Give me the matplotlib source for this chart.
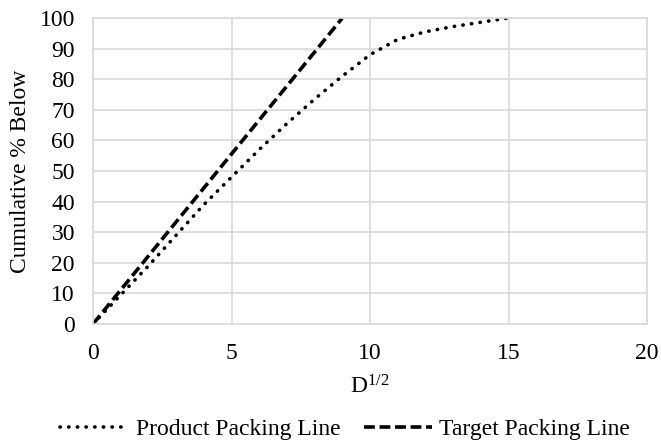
import matplotlib.pyplot as plt

plt.rcParams['font.family'] = ['Liberation Serif', 'DejaVu Serif']
plt.rcParams['mathtext.fontset'] = 'custom'
plt.rcParams['mathtext.rm'] = 'Liberation Serif'
plt.rcParams['mathtext.default'] = 'regular'

# Product packing line
product_x = [0, 1, 2, 3, 4, 5, 6, 7, 8, 9, 10, 11, 12, 13, 14, 15]
product_y = [0, 9.5, 19, 29, 39, 48, 57, 65.5, 73.5, 81, 88, 93, 95.5, 97.2, 98.6, 100]

# Target packing line
target_x = [0, 9]
target_y = [0, 100]

x_ticks = [0, 5, 10, 15, 20]
y_ticks = [0, 10, 20, 30, 40, 50, 60, 70, 80, 90, 100]

fig = plt.figure(figsize=(6.61, 4.44), dpi=100)
ax = fig.add_axes([0.1407, 0.2703, 0.8383, 0.6892])

ax.plot(product_x, product_y, color='black', linewidth=2.6, linestyle=(0, (0.1, 2.3)),
        dash_capstyle='round', label='Product Packing Line')
ax.plot(target_x, target_y, color='black', linewidth=2.6, linestyle=(0, (3.0, 1.3)),
        label='Target Packing Line')

ax.set_xlim(0, 20)
ax.set_ylim(0, 100)
ax.set_xticks(x_ticks)
ax.set_yticks(y_ticks)
ax.grid(True, color='#d9d9d9', linewidth=1.2)
ax.set_axisbelow(True)
for s in ax.spines.values():
    s.set_color('#d9d9d9')
    s.set_linewidth(1.2)
ax.tick_params(length=0, labelsize=17)
ax.tick_params(axis='x', pad=14)
ax.tick_params(axis='y', pad=13)

ax.set_xlabel('D$^{1/2}$', fontsize=17, labelpad=8)
ax.set_ylabel('Cumulative % Below', fontsize=17, labelpad=6)

ax.legend(loc='center', bbox_to_anchor=(0.455, -0.345), ncol=2, frameon=False,
          fontsize=17, handlelength=2.9, handletextpad=0.3, columnspacing=1.0)

fig.savefig('out.png')
